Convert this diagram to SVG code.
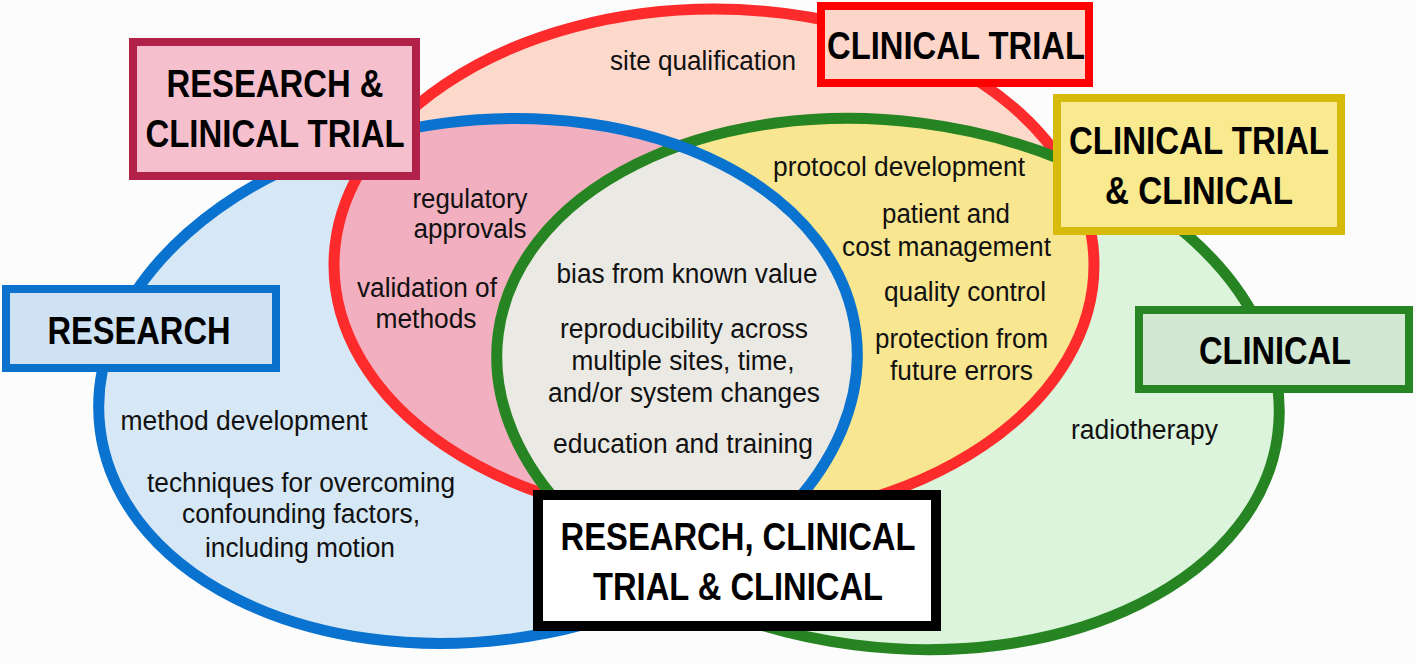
<svg xmlns="http://www.w3.org/2000/svg" width="1416" height="665" viewBox="0 0 1416 665">
<defs>
<style>
.t{font-family:"Liberation Sans Narrow","Liberation Sans",Arial,sans-serif;font-size:27px;fill:#111;text-anchor:middle}
.ts{font-family:"Liberation Sans Narrow","Liberation Sans",Arial,sans-serif;font-size:27px;fill:#111;text-anchor:start}
.b{font-family:"Liberation Sans Narrow","Liberation Sans",Arial,sans-serif;font-size:38px;font-weight:bold;fill:#000;text-anchor:middle}
.box{stroke-width:8}
</style>
<ellipse id="eB" cx="478" cy="381" rx="381" ry="260" transform="rotate(-7.4 478 381)"/>
<ellipse id="eR" cx="714" cy="265" rx="380" ry="256"/>
<ellipse id="eG" cx="888" cy="384" rx="393" ry="263" transform="rotate(7.3 888 384)"/>
<clipPath id="cR"><use href="#eR"/></clipPath>
<clipPath id="cG"><use href="#eG"/></clipPath>
</defs>
<rect x="0" y="0" width="1416" height="665" fill="#fcfcfc"/>
<g id="regions">
<use href="#eB" fill="#d6e7f5"/>
<use href="#eR" fill="#fdd9cc"/>
<use href="#eG" fill="#dcf3dc"/>
<use href="#eB" fill="#f1afbf" clip-path="url(#cR)"/>
<use href="#eG" fill="#f9e690" clip-path="url(#cR)"/>
<use href="#eB" fill="#ebe9e4" clip-path="url(#cG)"/>
</g>
<g id="connectors" fill="none" stroke-width="11">
<use href="#eR" stroke="#fd2b2b"/>
<use href="#eG" stroke="#268522"/>
<use href="#eB" stroke="#0a73d0"/>
</g>
<g id="node-research-clinical-trial">
<rect class="box" x="133" y="42" width="283" height="134" fill="#f5bfcd" stroke="#b22148"/>
<text class="b" x="275" y="97" textLength="217" lengthAdjust="spacingAndGlyphs">RESEARCH &amp;</text>
<text class="b" x="275" y="147" textLength="259" lengthAdjust="spacingAndGlyphs">CLINICAL TRIAL</text>
</g>
<g id="node-clinical-trial">
<rect class="box" x="821" y="6" width="268" height="77" fill="#fdd5c9" stroke="#ff0000"/>
<text class="b" x="956" y="59" textLength="258" lengthAdjust="spacingAndGlyphs">CLINICAL TRIAL</text>
</g>
<g id="node-clinical-trial-clinical">
<rect class="box" x="1057" y="98" width="284" height="133" fill="#f9e98f" stroke="#d6bb0d"/>
<text class="b" x="1199" y="154" textLength="260" lengthAdjust="spacingAndGlyphs">CLINICAL TRIAL</text>
<text class="b" x="1199" y="204" textLength="188" lengthAdjust="spacingAndGlyphs">&amp; CLINICAL</text>
</g>
<g id="node-research">
<rect class="box" x="6" y="289" width="270" height="79" fill="#cfe2f3" stroke="#0a72cc"/>
<text class="b" x="139" y="344" textLength="183" lengthAdjust="spacingAndGlyphs">RESEARCH</text>
</g>
<g id="node-clinical">
<rect class="box" x="1139" y="310" width="270" height="79" fill="#d2e8d3" stroke="#288524"/>
<text class="b" x="1275" y="364" textLength="152" lengthAdjust="spacingAndGlyphs">CLINICAL</text>
</g>
<g id="node-all">
<rect x="538" y="495" width="398" height="131" fill="#ffffff" stroke="#000000" stroke-width="10"/>
<text class="b" x="738" y="550" textLength="355" lengthAdjust="spacingAndGlyphs">RESEARCH, CLINICAL</text>
<text class="b" x="738" y="600" textLength="290" lengthAdjust="spacingAndGlyphs">TRIAL &amp; CLINICAL</text>
</g>
<g id="labels">
<text class="t" x="703" y="70" textLength="186" lengthAdjust="spacingAndGlyphs">site qualification</text>
<text class="t" x="470" y="208" textLength="115" lengthAdjust="spacingAndGlyphs">regulatory</text>
<text class="t" x="470" y="238" textLength="113" lengthAdjust="spacingAndGlyphs">approvals</text>
<text class="t" x="427" y="297" textLength="140" lengthAdjust="spacingAndGlyphs">validation of</text>
<text class="t" x="426" y="328" textLength="101" lengthAdjust="spacingAndGlyphs">methods</text>
<text class="t" x="244" y="430" textLength="247" lengthAdjust="spacingAndGlyphs">method development</text>
<text class="t" x="301" y="492" textLength="308" lengthAdjust="spacingAndGlyphs">techniques for overcoming</text>
<text class="t" x="301" y="523" textLength="238" lengthAdjust="spacingAndGlyphs">confounding factors,</text>
<text class="t" x="300" y="557" textLength="190" lengthAdjust="spacingAndGlyphs">including motion</text>
<text class="t" x="687" y="283" textLength="261" lengthAdjust="spacingAndGlyphs">bias from known value</text>
<text class="t" x="684" y="338" textLength="248" lengthAdjust="spacingAndGlyphs">reproducibility across</text>
<text class="t" x="683" y="370" textLength="223" lengthAdjust="spacingAndGlyphs">multiple sites, time,</text>
<text class="t" x="684" y="402" textLength="272" lengthAdjust="spacingAndGlyphs">and/or system changes</text>
<text class="t" x="683" y="453" textLength="260" lengthAdjust="spacingAndGlyphs">education and training</text>
<text class="ts" x="773" y="176" textLength="252" lengthAdjust="spacingAndGlyphs">protocol development</text>
<text class="ts" x="882" y="223" textLength="128" lengthAdjust="spacingAndGlyphs">patient and</text>
<text class="ts" x="842" y="256" textLength="209" lengthAdjust="spacingAndGlyphs">cost management</text>
<text class="ts" x="884" y="301" textLength="162" lengthAdjust="spacingAndGlyphs">quality control</text>
<text class="ts" x="875" y="348" textLength="173" lengthAdjust="spacingAndGlyphs">protection from</text>
<text class="ts" x="890" y="380" textLength="143" lengthAdjust="spacingAndGlyphs">future errors</text>
<text class="ts" x="1071" y="439" textLength="147" lengthAdjust="spacingAndGlyphs">radiotherapy</text>
</g>
</svg>
